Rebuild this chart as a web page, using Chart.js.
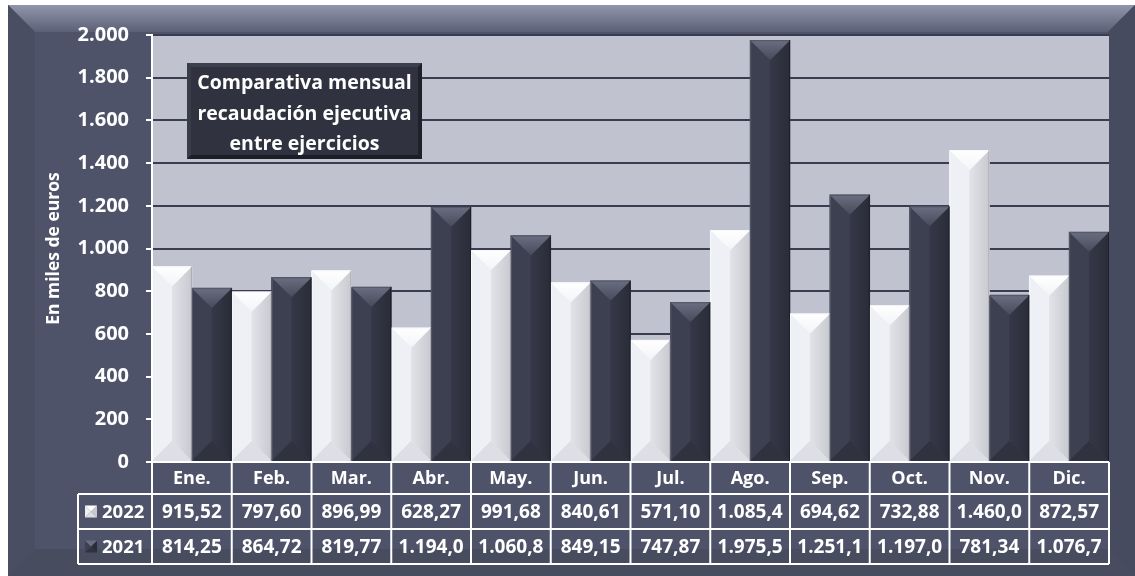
<!DOCTYPE html>
<html lang="es">
<head>
<meta charset="utf-8">
<title>Comparativa mensual recaudación ejecutiva</title>
<script src="https://cdn.jsdelivr.net/npm/chart.js@4"></script>
<style>
  html, body { margin: 0; padding: 0; background: #fff; overflow: hidden; }
  #wrap { width: 1135px; height: 576px; position: relative; }
</style>
</head>
<body>
<div id="wrap"><canvas id="chart"></canvas></div>
<script>
// datos (miles de euros)
const categories = ['Ene.', 'Feb.', 'Mar.', 'Abr.', 'May.', 'Jun.', 'Jul.', 'Ago.', 'Sep.', 'Oct.', 'Nov.', 'Dic.'];
const seriesLabels = ['2022', '2021'];
const values2022 = [915.52, 797.60, 896.99, 628.27, 991.68, 840.61, 571.10, 1085.4, 694.62, 732.88, 1460.0, 872.57];
const values2021 = [814.25, 864.72, 819.77, 1194.0, 1060.8, 849.15, 747.87, 1975.5, 1251.1, 1197.0, 781.34, 1076.7];
const yMin = 0, yMax = 2000, yStep = 200;
const titleLines = ['Comparativa mensual', 'recaudación ejecutiva', 'entre ejercicios'];
const yTitle = 'En miles de euros';

const FONT = '"Open Sans", "Noto Sans", sans-serif';

function groupThousands(s) {
  return s.replace(/\B(?=(\d{3})+(?!\d))/g, '.');
}
function fmtTick(v) {
  return groupThousands(String(v));
}
// el gráfico original recorta a 6 caracteres: 1.085,4 / 915,52
function fmtCell(v) {
  const txt = v >= 1000 ? v.toFixed(1) : v.toFixed(2);
  const [ent, dec] = txt.split('.');
  return groupThousands(ent) + ',' + dec;
}

function poly(ctx, pts, fill) {
  ctx.beginPath();
  ctx.moveTo(pts[0][0], pts[0][1]);
  for (let i = 1; i < pts.length; i++) ctx.lineTo(pts[i][0], pts[i][1]);
  ctx.closePath();
  ctx.fillStyle = fill;
  ctx.fill();
}

// marco biselado + fondo del área de trazado
const frameBg = {
  id: 'frameBg',
  beforeDraw(chart) {
    const { ctx, chartArea: a, width, height } = chart;
    ctx.save();
    ctx.fillStyle = '#ffffff';
    ctx.fillRect(0, 0, width, height);
    const L = 8, T = 5, R = width, B = height, bw = 27;
    ctx.fillStyle = '#4f5369';
    ctx.fillRect(L, T, R - L, B - T);
    const g = ctx.createLinearGradient(0, T, 0, T + bw);
    g.addColorStop(0, '#9196ab');
    g.addColorStop(1, '#5c6077');
    poly(ctx, [[L, T], [R, T], [R - bw, T + bw], [L + bw, T + bw]], g);
    poly(ctx, [[L, T], [L + bw, T + bw], [L + bw, B - bw], [L, B]], '#4a4e62');
    poly(ctx, [[R, T], [R - bw, T + bw], [R - bw, B - bw], [R, B]], '#474b5f');
    poly(ctx, [[L, B], [L + bw, B - bw], [R - bw, B - bw], [R, B]], '#484c5f');
    ctx.fillStyle = '#c0c3cf';
    ctx.fillRect(a.left, a.top, a.right - a.left, a.bottom - a.top);
    ctx.restore();
  }
};

// caras del bisel de cada barra
const bevelPalettes = [
  { top: ['#ffffff', '#f3f4f8'], left: '#eef0f6', right: ['#e2e3e8', '#c9cacf'], bottom: '#dedfe4', edgeL: '#f8f9fc', edgeR: '#a9aab0' },
  { top: ['#6a6e80', '#474a5b'], left: '#3d4051', right: ['#363848', '#2a2c38'], bottom: '#30323f', edgeL: '#555869', edgeR: '#1e2028' }
];

const barBevel = {
  id: 'barBevel',
  afterDatasetsDraw(chart) {
    const ctx = chart.ctx;
    ctx.save();
    chart.data.datasets.forEach((ds, di) => {
      const pal = bevelPalettes[di];
      chart.getDatasetMeta(di).data.forEach(bar => {
        const { x, y, base, width } = bar.getProps(['x', 'y', 'base', 'width'], true);
        const l = x - width / 2, r = x + width / 2, t = y, b = base;
        const d = Math.min(width / 2, (b - t) / 2);
        let g = ctx.createLinearGradient(0, t, 0, t + d);
        g.addColorStop(0, pal.top[0]);
        g.addColorStop(1, pal.top[1]);
        poly(ctx, [[l, t], [x, t + d], [x, b - d], [l, b]], pal.left);
        const gr = ctx.createLinearGradient(x, 0, r, 0);
        gr.addColorStop(0, pal.right[0]);
        gr.addColorStop(1, pal.right[1]);
        poly(ctx, [[r, t], [x, t + d], [x, b - d], [r, b]], gr);
        poly(ctx, [[l, b], [x, b - d], [r, b]], pal.bottom);
        poly(ctx, [[l, t], [r, t], [x, t + d]], g);
        ctx.lineWidth = 1;
        ctx.strokeStyle = pal.edgeL;
        ctx.beginPath(); ctx.moveTo(l + 0.5, b); ctx.lineTo(l + 0.5, t + 0.5); ctx.lineTo(r, t + 0.5); ctx.stroke();
        ctx.strokeStyle = pal.edgeR;
        ctx.beginPath(); ctx.moveTo(r - 0.5, t); ctx.lineTo(r - 0.5, b); ctx.stroke();
      });
    });
    ctx.restore();
  }
};

// cuadro de título y tabla de datos
const overlay = {
  id: 'overlay',
  afterDraw(chart) {
    const { ctx, chartArea: a } = chart;
    ctx.save();

    // título
    const bx = 187, by = 63, bw = 235, bh = 96, e = 4;
    ctx.fillStyle = '#30333f';
    ctx.fillRect(bx, by, bw, bh);
    poly(ctx, [[bx, by], [bx + bw, by], [bx + bw - e, by + e], [bx + e, by + e]], '#50536366');
    poly(ctx, [[bx, by], [bx + e, by + e], [bx + e, by + bh - e], [bx, by + bh]], '#45485866');
    poly(ctx, [[bx + bw, by], [bx + bw - e, by + e], [bx + bw - e, by + bh - e], [bx + bw, by + bh]], '#1f212a');
    poly(ctx, [[bx, by + bh], [bx + e, by + bh - e], [bx + bw - e, by + bh - e], [bx + bw, by + bh]], '#1c1e26');
    ctx.fillStyle = '#ffffff';
    ctx.font = 'bold 19.5px ' + FONT;
    ctx.textAlign = 'center';
    ctx.textBaseline = 'alphabetic';
    titleLines.forEach((ln, i) => ctx.fillText(ln, bx + bw / 2, 89 + i * 30.5));

    // tabla de datos
    const n = categories.length;
    const cw = (a.right - a.left) / n;
    const rows = [a.bottom, a.bottom + 32, a.bottom + 67, a.bottom + 102];
    const labL = 78;
    ctx.strokeStyle = '#ffffff';
    ctx.lineWidth = 2;
    ctx.beginPath();
    ctx.moveTo(a.left, rows[0]); ctx.lineTo(a.right, rows[0]);
    for (let r = 1; r < rows.length; r++) { ctx.moveTo(labL, rows[r]); ctx.lineTo(a.right, rows[r]); }
    ctx.moveTo(labL, rows[1]); ctx.lineTo(labL, rows[3]);
    for (let i = 0; i <= n; i++) {
      const xx = a.left + i * cw;
      ctx.moveTo(xx, i === 0 ? a.top : rows[0]); ctx.lineTo(xx, rows[3]);
    }
    ctx.stroke();

    ctx.fillStyle = '#ffffff';
    ctx.textBaseline = 'middle';
    ctx.textAlign = 'center';
    const xs = chart.scales.x;
    const series = [values2022, values2021];
    categories.forEach((c, i) => {
      const cx = xs.getPixelForValue(i);
      ctx.font = 'bold 18px ' + FONT;
      ctx.fillText(c, cx, (rows[0] + rows[1]) / 2 + 1);
      ctx.font = 'bold 19px ' + FONT;
      series.forEach((vals, s) => ctx.fillText(fmtCell(vals[i]), cx, (rows[s + 1] + rows[s + 2]) / 2 + 1));
    });

    // claves de leyenda
    ctx.textAlign = 'left';
    ctx.font = 'bold 18.5px ' + FONT;
    seriesLabels.forEach((lab, s) => {
      const cy = (rows[s + 1] + rows[s + 2]) / 2;
      const pal = bevelPalettes[s];
      const kx = 85, ky = cy - 6, k = 12;
      poly(ctx, [[kx, ky], [kx + k / 2, ky + k / 2], [kx, ky + k]], pal.left);
      poly(ctx, [[kx + k, ky], [kx + k / 2, ky + k / 2], [kx + k, ky + k]], pal.right[1]);
      poly(ctx, [[kx, ky + k], [kx + k / 2, ky + k / 2], [kx + k, ky + k]], pal.bottom);
      poly(ctx, [[kx, ky], [kx + k, ky], [kx + k / 2, ky + k / 2]], pal.top[0]);
      ctx.fillStyle = '#ffffff';
      ctx.fillText(lab, 102, cy + 1);
    });
    ctx.restore();
  }
};

Chart.defaults.font.family = FONT;

new Chart(document.getElementById('chart'), {
  type: 'bar',
  data: {
    labels: categories,
    datasets: [
      { label: seriesLabels[0], data: values2022, backgroundColor: '#e6e7ec', borderWidth: 0, categoryPercentage: 1, barPercentage: 1 },
      { label: seriesLabels[1], data: values2021, backgroundColor: '#363949', borderWidth: 0, categoryPercentage: 1, barPercentage: 1 }
    ]
  },
  options: {
    responsive: true,
    maintainAspectRatio: false,
    animation: false,
    layout: { padding: { left: 0, top: 35, right: 26, bottom: 114 } },
    plugins: { legend: { display: false }, tooltip: { enabled: false }, title: { display: false } },
    scales: {
      x: { display: false },
      y: {
        min: yMin, max: yMax,
        ticks: { stepSize: yStep, color: '#ffffff', padding: 17, font: { size: 20, weight: 'bold' }, callback: v => fmtTick(v) },
        grid: {
          color: ctx => ctx.tick && ctx.tick.value === 0 ? 'rgba(0,0,0,0)' : '#3a3d4f',
          lineWidth: 2, tickColor: '#ffffff', tickLength: 6, tickWidth: 2
        },
        border: { display: true, color: '#ffffff', width: 2 },
        title: { display: true, text: yTitle, color: '#ffffff', font: { size: 17.5, weight: 'bold' }, padding: { top: 44, bottom: 0 } },
        afterFit(scale) { scale.width = 152; }
      }
    }
  },
  plugins: [frameBg, barBevel, overlay]
});
</script>
</body>
</html>
